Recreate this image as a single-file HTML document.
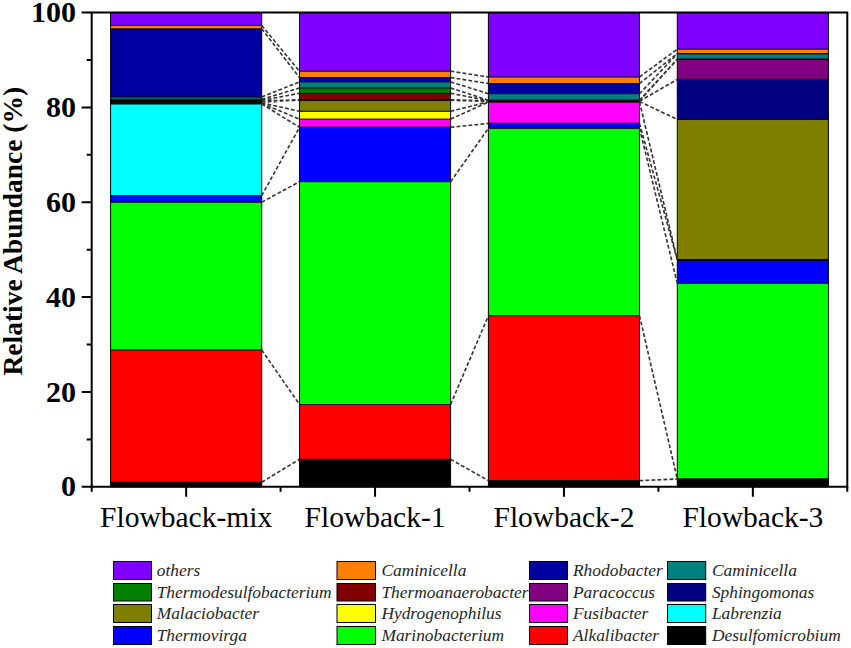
<!DOCTYPE html>
<html><head><meta charset="utf-8"><style>
html,body{margin:0;padding:0;background:#fff;width:851px;height:648px;overflow:hidden}
svg{display:block}
text{font-family:"Liberation Serif",serif;fill:#000}
.yl{font-weight:bold;font-size:30px}
.xl{font-size:29.5px}
.yt{font-weight:bold;font-size:27.5px}
.lg{font-style:italic;font-size:17.4px;fill:#262626}
</style></head><body>
<svg width="851" height="648" viewBox="0 0 851 648">
<rect x="110.59" y="482.2" width="151.12" height="4.6" fill="#000000"/>
<rect x="110.59" y="350" width="151.12" height="132.2" fill="#FF0000"/>
<rect x="110.59" y="202.2" width="151.12" height="147.8" fill="#00FF00"/>
<rect x="110.59" y="195.6" width="151.12" height="6.6" fill="#0000FF"/>
<rect x="110.59" y="104" width="151.12" height="91.6" fill="#00FFFF"/>
<rect x="110.59" y="103.4" width="151.12" height="0.6" fill="#FF00FF"/>
<rect x="110.59" y="102.8" width="151.12" height="0.6" fill="#FFFF00"/>
<rect x="110.59" y="102.2" width="151.12" height="0.6" fill="#808000"/>
<rect x="110.59" y="101.6" width="151.12" height="0.6" fill="#000080"/>
<rect x="110.59" y="101" width="151.12" height="0.6" fill="#800080"/>
<rect x="110.59" y="100.4" width="151.12" height="0.6" fill="#800000"/>
<rect x="110.59" y="99.3" width="151.12" height="1.1" fill="#008000"/>
<rect x="110.59" y="97" width="151.12" height="2.3" fill="#008080"/>
<rect x="110.59" y="28.8" width="151.12" height="68.2" fill="#0000A0"/>
<rect x="110.59" y="25.4" width="151.12" height="3.4" fill="#FF8000"/>
<rect x="110.59" y="12.6" width="151.12" height="12.8" fill="#8000FF"/>
<path d="M110.59 482.2H261.71M110.59 350H261.71M110.59 202.2H261.71M110.59 195.6H261.71M110.59 104H261.71M110.59 103.4H261.71M110.59 102.8H261.71M110.59 102.2H261.71M110.59 101.6H261.71M110.59 101H261.71M110.59 100.4H261.71M110.59 99.3H261.71M110.59 97H261.71M110.59 28.8H261.71M110.59 25.4H261.71" stroke="#000" stroke-width="1" fill="none"/>
<rect x="110.59" y="12.6" width="151.12" height="474.2" fill="none" stroke="#000" stroke-width="1"/>
<rect x="299.49" y="459.3" width="151.12" height="27.5" fill="#000000"/>
<rect x="299.49" y="404.5" width="151.12" height="54.8" fill="#FF0000"/>
<rect x="299.49" y="181.7" width="151.12" height="222.8" fill="#00FF00"/>
<rect x="299.49" y="127.3" width="151.12" height="54.4" fill="#0000FF"/>
<rect x="299.49" y="119.1" width="151.12" height="8.2" fill="#FF00FF"/>
<rect x="299.49" y="111.3" width="151.12" height="7.8" fill="#FFFF00"/>
<rect x="299.49" y="100.3" width="151.12" height="11" fill="#808000"/>
<rect x="299.49" y="100" width="151.12" height="0.3" fill="#000080"/>
<rect x="299.49" y="99.7" width="151.12" height="0.3" fill="#800080"/>
<rect x="299.49" y="93.3" width="151.12" height="6.4" fill="#800000"/>
<rect x="299.49" y="88" width="151.12" height="5.3" fill="#008000"/>
<rect x="299.49" y="81.9" width="151.12" height="6.1" fill="#008080"/>
<rect x="299.49" y="77.5" width="151.12" height="4.4" fill="#0000A0"/>
<rect x="299.49" y="71.2" width="151.12" height="6.3" fill="#FF8000"/>
<rect x="299.49" y="12.6" width="151.12" height="58.6" fill="#8000FF"/>
<path d="M299.49 459.3H450.61M299.49 404.5H450.61M299.49 181.7H450.61M299.49 127.3H450.61M299.49 127.3H450.61M299.49 119.1H450.61M299.49 111.3H450.61M299.49 100.3H450.61M299.49 100H450.61M299.49 99.7H450.61M299.49 93.3H450.61M299.49 88H450.61M299.49 81.9H450.61M299.49 77.5H450.61M299.49 71.2H450.61" stroke="#000" stroke-width="1" fill="none"/>
<rect x="299.49" y="12.6" width="151.12" height="474.2" fill="none" stroke="#000" stroke-width="1"/>
<rect x="488.39" y="480.6" width="151.12" height="6.2" fill="#000000"/>
<rect x="488.39" y="315.75" width="151.12" height="164.85" fill="#FF0000"/>
<rect x="488.39" y="128.3" width="151.12" height="187.45" fill="#00FF00"/>
<rect x="488.39" y="123.4" width="151.12" height="4.9" fill="#0000FF"/>
<rect x="488.39" y="102.1" width="151.12" height="21.3" fill="#FF00FF"/>
<rect x="488.39" y="101.8" width="151.12" height="0.3" fill="#FFFF00"/>
<rect x="488.39" y="101.5" width="151.12" height="0.3" fill="#808000"/>
<rect x="488.39" y="101.2" width="151.12" height="0.3" fill="#000080"/>
<rect x="488.39" y="100.9" width="151.12" height="0.3" fill="#800080"/>
<rect x="488.39" y="100.6" width="151.12" height="0.3" fill="#800000"/>
<rect x="488.39" y="100.2" width="151.12" height="0.4" fill="#008000"/>
<rect x="488.39" y="93.7" width="151.12" height="6.5" fill="#008080"/>
<rect x="488.39" y="83.5" width="151.12" height="10.2" fill="#0000A0"/>
<rect x="488.39" y="77" width="151.12" height="6.5" fill="#FF8000"/>
<rect x="488.39" y="12.6" width="151.12" height="64.4" fill="#8000FF"/>
<path d="M488.39 480.6H639.51M488.39 315.75H639.51M488.39 128.3H639.51M488.39 123.4H639.51M488.39 123.4H639.51M488.39 102.1H639.51M488.39 101.8H639.51M488.39 101.5H639.51M488.39 101.2H639.51M488.39 100.9H639.51M488.39 100.6H639.51M488.39 100.2H639.51M488.39 93.7H639.51M488.39 83.5H639.51M488.39 77H639.51" stroke="#000" stroke-width="1" fill="none"/>
<rect x="488.39" y="12.6" width="151.12" height="474.2" fill="none" stroke="#000" stroke-width="1"/>
<rect x="677.29" y="479" width="151.12" height="7.8" fill="#000000"/>
<rect x="677.29" y="283.3" width="151.12" height="195.7" fill="#00FF00"/>
<rect x="677.29" y="259.9" width="151.12" height="23.4" fill="#0000FF"/>
<rect x="677.29" y="119.4" width="151.12" height="140.5" fill="#808000"/>
<rect x="677.29" y="79.4" width="151.12" height="40" fill="#000080"/>
<rect x="677.29" y="59.5" width="151.12" height="19.9" fill="#800080"/>
<rect x="677.29" y="59.3" width="151.12" height="0.2" fill="#800000"/>
<rect x="677.29" y="59.1" width="151.12" height="0.2" fill="#008000"/>
<rect x="677.29" y="53.8" width="151.12" height="5.3" fill="#008080"/>
<rect x="677.29" y="53.6" width="151.12" height="0.2" fill="#0000A0"/>
<rect x="677.29" y="49.1" width="151.12" height="4.5" fill="#FF8000"/>
<rect x="677.29" y="12.6" width="151.12" height="36.5" fill="#8000FF"/>
<path d="M677.29 479H828.41M677.29 479H828.41M677.29 283.3H828.41M677.29 259.9H828.41M677.29 259.9H828.41M677.29 259.9H828.41M677.29 259.9H828.41M677.29 119.4H828.41M677.29 79.4H828.41M677.29 59.5H828.41M677.29 59.3H828.41M677.29 59.1H828.41M677.29 53.8H828.41M677.29 53.6H828.41M677.29 49.1H828.41" stroke="#000" stroke-width="1" fill="none"/>
<rect x="677.29" y="12.6" width="151.12" height="474.2" fill="none" stroke="#000" stroke-width="1"/>
<path d="M261.71 482.2L299.49 459.3M261.71 350L299.49 404.5M261.71 202.2L299.49 181.7M261.71 195.6L299.49 127.3M261.71 104L299.49 127.3M261.71 103.4L299.49 119.1M261.71 102.8L299.49 111.3M261.71 102.2L299.49 100.3M261.71 101.6L299.49 100M261.71 101L299.49 99.7M261.71 100.4L299.49 93.3M261.71 99.3L299.49 88M261.71 97L299.49 81.9M261.71 28.8L299.49 77.5M261.71 25.4L299.49 71.2M450.61 459.3L488.39 480.6M450.61 404.5L488.39 315.75M450.61 181.7L488.39 128.3M450.61 127.3L488.39 123.4M450.61 127.3L488.39 123.4M450.61 119.1L488.39 102.1M450.61 111.3L488.39 101.8M450.61 100.3L488.39 101.5M450.61 100L488.39 101.2M450.61 99.7L488.39 100.9M450.61 93.3L488.39 100.6M450.61 88L488.39 100.2M450.61 81.9L488.39 93.7M450.61 77.5L488.39 83.5M450.61 71.2L488.39 77M639.51 480.6L677.29 479M639.51 315.75L677.29 479M639.51 128.3L677.29 283.3M639.51 123.4L677.29 259.9M639.51 123.4L677.29 259.9M639.51 102.1L677.29 259.9M639.51 101.8L677.29 259.9M639.51 101.5L677.29 119.4M639.51 101.2L677.29 79.4M639.51 100.9L677.29 59.5M639.51 100.6L677.29 59.3M639.51 100.2L677.29 59.1M639.51 93.7L677.29 53.8M639.51 83.5L677.29 53.6M639.51 77L677.29 49.1" stroke="#333" stroke-width="1.6" stroke-dasharray="3.8 2.2" fill="none"/>
<path d="M91.7 12.6H847.3V486.8H91.7Z" stroke="#000" stroke-width="2" fill="none"/>
<path d="M81.7 486.8H91.7M86.7 439.38H91.7M81.7 391.96H91.7M86.7 344.54H91.7M81.7 297.12H91.7M86.7 249.7H91.7M81.7 202.28H91.7M86.7 154.86H91.7M81.7 107.44H91.7M86.7 60.02H91.7M81.7 12.6H91.7M91.7 486.8V491.8M186.15 486.8V496.8M280.6 486.8V491.8M375.05 486.8V496.8M469.5 486.8V491.8M563.95 486.8V496.8M658.4 486.8V491.8M752.85 486.8V496.8M847.3 486.8V491.8" stroke="#000" stroke-width="2" fill="none"/>
<text x="76" y="496.4" text-anchor="end" class="yl">0</text>
<text x="76" y="401.56" text-anchor="end" class="yl">20</text>
<text x="76" y="306.72" text-anchor="end" class="yl">40</text>
<text x="76" y="211.88" text-anchor="end" class="yl">60</text>
<text x="76" y="117.04" text-anchor="end" class="yl">80</text>
<text x="76" y="22.2" text-anchor="end" class="yl">100</text>
<text x="186.15" y="527.2" text-anchor="middle" class="xl">Flowback-mix</text>
<text x="375.05" y="527.2" text-anchor="middle" class="xl">Flowback-1</text>
<text x="563.95" y="527.2" text-anchor="middle" class="xl">Flowback-2</text>
<text x="752.85" y="527.2" text-anchor="middle" class="xl">Flowback-3</text>
<text transform="translate(21.6 231.2) rotate(-90)" text-anchor="middle" class="yt">Relative Abundance (%)</text>
<rect x="113.5" y="561.5" width="38" height="18" fill="#8000FF" stroke="#000" stroke-width="1"/>
<text x="156.7" y="576.4" class="lg">others</text>
<rect x="337" y="561.5" width="38.5" height="18" fill="#FF8000" stroke="#000" stroke-width="1"/>
<text x="381.4" y="576.4" class="lg">Caminicella</text>
<rect x="529.5" y="561.5" width="38" height="18" fill="#0000A0" stroke="#000" stroke-width="1"/>
<text x="573" y="576.4" class="lg">Rhodobacter</text>
<rect x="667.5" y="561.5" width="38.2" height="18" fill="#008080" stroke="#000" stroke-width="1"/>
<text x="711.9" y="576.4" class="lg">Caminicella</text>
<rect x="113.5" y="583.5" width="38" height="17.5" fill="#008000" stroke="#000" stroke-width="1"/>
<text x="156.7" y="598.1" class="lg">Thermodesulfobacterium</text>
<rect x="337" y="583.5" width="38.5" height="17.5" fill="#800000" stroke="#000" stroke-width="1"/>
<text x="381.4" y="598.1" class="lg">Thermoanaerobacter</text>
<rect x="529.5" y="583.5" width="38" height="17.5" fill="#800080" stroke="#000" stroke-width="1"/>
<text x="573" y="598.1" class="lg">Paracoccus</text>
<rect x="667.5" y="583.5" width="38.2" height="17.5" fill="#000080" stroke="#000" stroke-width="1"/>
<text x="711.9" y="598.1" class="lg">Sphingomonas</text>
<rect x="113.5" y="604.5" width="38" height="18" fill="#808000" stroke="#000" stroke-width="1"/>
<text x="156.7" y="619.4" class="lg">Malaciobacter</text>
<rect x="337" y="604.5" width="38.5" height="18" fill="#FFFF00" stroke="#000" stroke-width="1"/>
<text x="381.4" y="619.4" class="lg">Hydrogenophilus</text>
<rect x="529.5" y="604.5" width="38" height="18" fill="#FF00FF" stroke="#000" stroke-width="1"/>
<text x="573" y="619.4" class="lg">Fusibacter</text>
<rect x="667.5" y="604.5" width="38.2" height="18" fill="#00FFFF" stroke="#000" stroke-width="1"/>
<text x="711.9" y="619.4" class="lg">Labrenzia</text>
<rect x="113.5" y="626.5" width="38" height="18" fill="#0000FF" stroke="#000" stroke-width="1"/>
<text x="156.7" y="641.2" class="lg">Thermovirga</text>
<rect x="337" y="626.5" width="38.5" height="18" fill="#00FF00" stroke="#000" stroke-width="1"/>
<text x="381.4" y="641.2" class="lg">Marinobacterium</text>
<rect x="529.5" y="626.5" width="38" height="18" fill="#FF0000" stroke="#000" stroke-width="1"/>
<text x="573" y="641.2" class="lg">Alkalibacter</text>
<rect x="667.5" y="626.5" width="38.2" height="18" fill="#000000" stroke="#000" stroke-width="1"/>
<text x="711.9" y="641.2" class="lg">Desulfomicrobium</text>
</svg>
</body></html>
